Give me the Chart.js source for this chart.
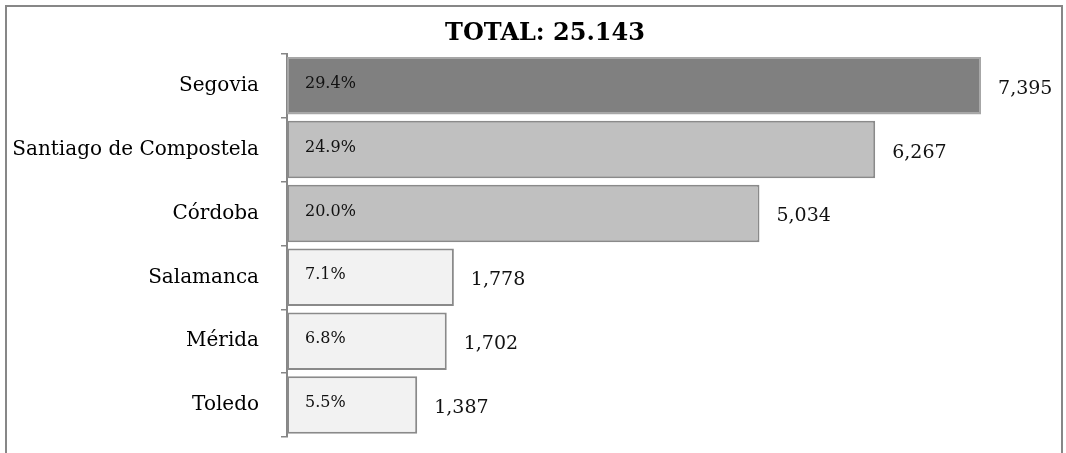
<!DOCTYPE html>
<html>
<head>
<meta charset="utf-8">
<script src="https://cdn.jsdelivr.net/npm/chart.js@4/dist/chart.umd.min.js"></script>
<style>
  html, body { margin: 0; padding: 0; background: #fff; }
  #wrap { position: relative; width: 1066px; height: 453px; overflow: hidden; }
  #frame { position: absolute; left: 5px; top: 5px; width: 1058px; height: 470px; border: 2px solid #878787; box-sizing: border-box; }
  #c { position: absolute; left: 0; top: 0; }
</style>
</head>
<body>
<div id="wrap">
  <div id="frame"></div>
  <canvas id="c" width="1066" height="453"></canvas>
</div>
<script>
const categories = ["Segovia", "Santiago de Compostela", "Córdoba", "Salamanca", "Mérida", "Toledo"];
const values = [7395, 6267, 5034, 1778, 1702, 1387];
const percents = ["29.4%", "24.9%", "20.0%", "7.1%", "6.8%", "5.5%"];
const valueLabels = ["7,395", "6,267", "5,034", "1,778", "1,702", "1,387"];
const barColors = ["#808080", "#c0c0c0", "#c0c0c0", "#f2f2f2", "#f2f2f2", "#f2f2f2"];
const borderColors = ["#a6a6a6", "#8a8a8a", "#8a8a8a", "#8a8a8a", "#8a8a8a", "#8a8a8a"];
const titleText = "TOTAL: 25.143";

const SERIF = "'DejaVu Serif', serif";

const labelPlugin = {
  id: 'barLabels',
  afterLayout(chart) {
    if (chart.titleBlock) { chart.titleBlock.left += 24; }
  },
  afterDatasetsDraw(chart) {
    const ctx = chart.ctx;
    const meta = chart.getDatasetMeta(0);
    ctx.save();
    meta.data.forEach((bar, i) => {
      const p = bar.getProps(['x', 'y', 'base'], true);
      ctx.fillStyle = '#111';
      ctx.textBaseline = 'middle';
      ctx.textAlign = 'left';
      ctx.font = "16px " + SERIF;
      ctx.fillText(percents[i], p.base + 18, p.y - 2);
      ctx.font = "19px " + SERIF;
      ctx.fillText(valueLabels[i], p.x + 17, p.y + 3);
    });
    ctx.restore();
  }
};

new Chart(document.getElementById('c'), {
  type: 'bar',
  data: {
    labels: categories,
    datasets: [{
      data: values,
      backgroundColor: barColors,
      borderColor: borderColors,
      borderWidth: 2,
      borderSkipped: false,
      barPercentage: 0.9,
      categoryPercentage: 1.0
    }]
  },
  options: {
    indexAxis: 'y',
    responsive: false,
    animation: false,
    layout: { padding: { left: 0, right: 0, top: 0, bottom: 16 } },
    plugins: {
      legend: { display: false },
      tooltip: { enabled: false },
      title: {
        display: true,
        text: titleText,
        color: '#000',
        font: { family: SERIF, size: 24, weight: 'bold' },
        padding: { top: 19, bottom: 6 }
      }
    },
    scales: {
      x: { display: false, min: 0, max: 8300 },
      y: {
        afterFit(scale) { scale.width = 287; scale.paddingTop = 0; scale.paddingBottom = 0; },
        border: { display: true, color: '#868686', width: 2 },
        grid: { offset: true, drawOnChartArea: false, drawTicks: true, tickLength: 6, color: '#868686', lineWidth: 1.5 },
        ticks: { color: '#000', padding: 22, font: { family: SERIF, size: 20 } }
      }
    }
  },
  plugins: [labelPlugin]
});
</script>
</body>
</html>
